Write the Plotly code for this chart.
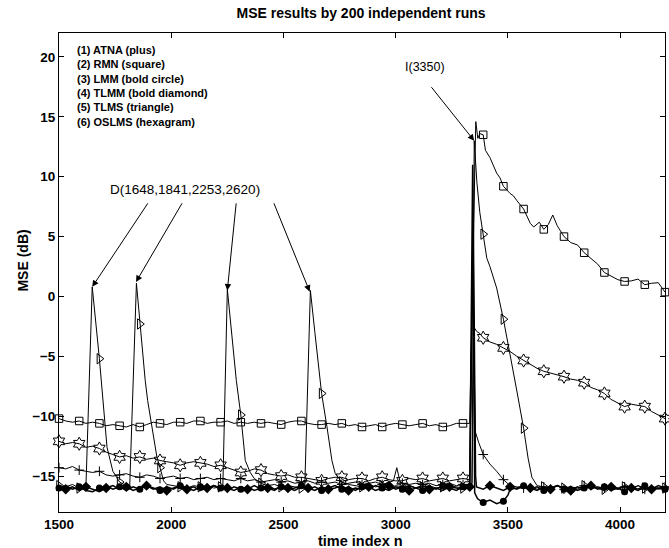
import plotly.graph_objects as go

X_TICKS = [1500, 2000, 2500, 3000, 3500, 4000]
Y_TICKS = [-15, -10, -5, 0, 5, 10, 15, 20]

LEGEND_LINES = ["(1) ATNA (plus)", "(2) RMN (square)", "(3) LMM (bold circle)",
                "(4) TLMM (bold diamond)", "(5) TLMS (triangle)", "(6) OSLMS (hexagram)"]

D_EVENTS = [1648, 1843, 2250, 2617]
D_TIP_Y = [0.8, 1.2, 0.5, 0.4]
D_TAIL_X = [1900, 2052, 2290, 2455]
D_TAIL_Y = [7.9, 7.9, 7.9, 7.9]

# ---- (1) ATNA (plus)
ATNA_X = list(range(1500, 2971, 30)) + [2990, 3005, 3020] + list(range(3030, 3331, 30)) \
    + [3340, 3348, 3355, 3370] + list(range(3390, 4201, 30))
ATNA_Y = [-14.3, -14.4, -14.2, -14.5, -14.6, -14.7, -14.6, -14.9, -15.0, -14.9,
          -14.8, -15.0, -15.1, -14.9, -15.0, -15.2, -15.1, -15.0, -15.2, -15.1,
          -15.3, -15.2, -15.1, -15.3, -15.2, -15.3, -15.4, -15.2, -15.4, -15.3,
          -15.5, -15.4, -15.3, -15.5, -15.4, -15.6, -15.5, -15.4, -15.6, -15.5,
          -15.6, -15.5, -15.7, -15.6, -15.5, -15.7, -15.6, -15.5, -15.7, -15.5,
          -15.4, -14.3, -15.5,
          -15.6, -15.7, -15.6, -15.7, -15.6, -15.8, -15.7, -15.6, -15.8, -15.7, -15.7,
          -15.6, -4.0, -11.3, -12.2,
          -13.2, -14.0, -14.6, -15.3, -15.8, -15.9, -16.0, -15.8, -16.1, -15.9,
          -16.0, -15.8, -16.1, -15.9, -16.0, -15.8, -16.1, -15.9, -16.0, -15.8,
          -16.1, -15.9, -16.0, -15.8, -16.1, -15.9, -16.0, -15.9]

# ---- (2) RMN (square)
RMN_X = list(range(1500, 3331, 30)) + [3340, 3352, 3357, 3366, 3375, 3390, 3400, 3420, 3435, 3450,
                                       3465, 3480, 3510, 3525, 3540, 3570, 3600, 3615, 3640, 3660,
                                       3680, 3700, 3720, 3750, 3780, 3810, 3840, 3870, 3900, 3930,
                                       3960, 3990, 4020, 4050, 4080, 4110, 4140, 4170, 4200]
RMN_Y = [-10.2, -10.4, -10.5, -10.4, -10.6, -10.5, -10.6, -10.8, -10.7, -10.8,
         -10.9, -10.7, -10.9, -10.7, -10.5, -10.6, -10.7, -10.5, -10.5, -10.6,
         -10.4, -10.4, -10.6, -10.5, -10.5, -10.4, -10.6, -10.5, -10.6, -10.5,
         -10.6, -10.5, -10.6, -10.7, -10.5, -10.4, -10.4, -10.6, -10.7, -10.7,
         -10.6, -10.7, -10.6, -10.8, -10.7, -10.9, -10.8, -10.7, -10.9, -10.7,
         -10.6, -10.7, -10.8, -10.7, -10.6, -10.8, -10.7, -10.9, -10.8, -10.6,
         -10.6, -10.6,
         -1.0, 10.5, 14.6, 13.2, 13.6, 13.5, 12.2, 11.6, 11.0, 10.3,
         9.9, 9.2, 8.6, 8.4, 8.0, 7.3, 6.1, 5.8, 6.2, 5.6,
         6.0, 6.8, 5.9, 5.0, 4.5, 4.3, 3.65, 3.15, 2.7, 2.0,
         1.7, 1.4, 1.25, 1.3, 1.45, 0.98, 1.1, 1.15, 0.36]

# ---- (3) LMM (bold circle)
LMM_X = list(range(1500, 3331, 30)) + [3343, 3352, 3365] + list(range(3390, 3481, 30)) + [3500] \
    + list(range(3510, 4201, 30))
LMM_Y = [-16.0, -15.8, -16.1, -15.9, -16.2, -16.3, -16.0, -15.8, -16.1, -15.9,
         -16.2, -15.9, -16.1, -15.8, -16.0, -16.2, -15.9, -16.1, -15.8, -16.0,
         -16.2, -15.9, -16.1, -15.8, -16.0, -16.2, -15.9, -16.1, -15.9, -16.2,
         -16.0, -15.8, -16.1, -15.9, -16.2, -16.0, -15.8, -16.1, -15.9, -16.2,
         -16.0, -15.8, -16.1, -15.9, -16.2, -15.9, -16.1, -15.8, -16.0, -16.2,
         -15.9, -16.1, -15.8, -16.0, -16.2, -15.9, -16.1, -15.8, -16.0, -16.2,
         -15.9, -16.0,
         11.0, -16.4, -16.9,
         -17.2, -17.0, -17.3, -17.1, -16.6,
         -16.1, -16.0, -15.8, -16.1, -15.9, -16.2, -16.0, -15.8, -16.1, -15.9,
         -16.2, -16.0, -15.8, -16.1, -15.9, -16.2, -16.0, -16.3, -15.9, -16.1,
         -15.8, -16.2, -16.0, -16.1]

# ---- (4) TLMM (bold diamond)
TLMM_X = list(range(1500, 3331, 30)) + [3346, 3356] + list(range(3360, 4201, 30))
TLMM_Y = [-15.8, -16.1, -15.9, -16.2, -15.9, -16.1, -16.3, -16.0, -15.8, -16.1,
          -15.9, -16.2, -16.0, -15.8, -16.1, -15.9, -16.2, -16.0, -15.8, -16.1,
          -15.9, -16.2, -16.0, -15.8, -16.1, -16.0, -16.2, -15.9, -16.1, -15.8,
          -16.1, -16.0, -16.2, -15.8, -16.0, -16.2, -15.9, -16.0, -16.2, -15.9,
          -16.1, -16.0, -15.8, -16.2, -16.0, -16.1, -15.9, -16.2, -16.0, -15.8,
          -16.1, -15.9, -16.2, -16.0, -15.8, -16.1, -16.0, -16.2, -15.9, -16.0,
          -16.1, -15.9,
          6.0, -15.0,
          -15.9, -16.1, -15.8, -16.0, -16.2, -15.9, -16.1, -15.8, -16.0, -16.2,
          -15.9, -16.1, -15.8, -16.0, -16.2, -15.9, -16.1, -15.8, -16.0, -16.2,
          -15.9, -16.1, -15.8, -16.0, -16.2, -15.9, -16.1, -15.8, -16.0]

# ---- (5) TLMS (triangle)
TLMS_X = [1500, 1530, 1560, 1590, 1620, 1648, 1680, 1695, 1714, 1740, 1770, 1800, 1815, 1845, 1860,
          1884, 1895, 1920, 1936, 1950, 1966, 1980, 2010, 2040, 2070, 2100, 2130, 2160, 2190, 2220,
          2230, 2250, 2270, 2290, 2310, 2330, 2352, 2370, 2400, 2430, 2460, 2490, 2520, 2550, 2580,
          2595, 2620, 2640, 2661, 2670, 2694, 2716, 2731, 2760, 2790, 2820, 2850, 2880, 2910, 2940,
          2970, 3000, 3030, 3060, 3090, 3120, 3150, 3180, 3210, 3240, 3270, 3300, 3330, 3340, 3350,
          3362, 3375, 3390, 3406, 3420, 3450, 3480, 3510, 3540, 3570, 3590, 3607, 3630, 3660, 3690,
          3720, 3750, 3780, 3810, 3840, 3870, 3900, 3930, 3960, 3990, 4020, 4050, 4080, 4110, 4140,
          4170, 4200]
TLMS_Y = [-15.8, -15.9, -15.7, -16.0, -15.9, 0.8, -5.2, -8.7, -12.6, -14.6, -15.5, -15.8, -15.9, 1.1, -2.3,
          -7.0, -8.7, -11.6, -13.4, -14.3, -15.4, -15.7, -15.8, -15.9, -16.0, -15.8, -15.9, -15.8, -16.0, -15.9,
          -15.9, 0.6, -3.3, -7.0, -9.9, -13.7, -14.7, -15.2, -15.6, -15.8, -15.7, -15.9, -15.8, -15.9, -16.0,
          -15.9, 0.5, -3.0, -7.0, -8.1, -10.9, -13.7, -14.8, -15.5, -15.7, -15.8, -15.9, -15.7, -15.9, -15.8,
          -16.0, -15.8, -15.9, -15.8, -16.0, -15.9, -15.8, -16.0, -15.9, -15.8, -15.9, -16.0, -15.9, -15.8, 13.0,
          9.5, 7.0, 5.2, 3.2, 2.5, 0.7, -1.9, -4.8, -7.9, -11.0, -13.5, -15.1, -15.8, -15.9, -16.1,
          -15.8, -16.0, -15.9, -16.1, -15.8, -16.0, -15.9, -16.1, -15.8, -16.0, -15.9, -16.1, -15.8, -16.0, -15.9,
          -16.1, -16.0]

# ---- (6) OSLMS (hexagram)
OSLMS_X = list(range(1500, 3331, 30)) + [3342, 3350, 3360, 3375] + list(range(3390, 4201, 30))
OSLMS_Y = [-12.1, -12.3, -12.2, -12.3, -12.6, -12.5, -12.7, -13.0, -13.2, -13.4,
           -13.3, -13.5, -13.4, -13.6, -13.5, -13.7, -13.8, -13.9, -14.1, -13.9,
           -13.8, -13.9, -14.0, -14.2, -14.1, -14.3, -14.5, -14.7, -14.6, -14.4,
           -14.5, -14.8, -14.9, -15.0, -14.9, -15.1, -15.1, -15.2, -15.3, -15.4,
           -15.2, -15.1, -15.1, -15.3, -15.2, -15.2, -15.4, -15.2, -15.1, -15.3,
           -15.4, -15.4, -15.2, -15.3, -15.2, -15.4, -15.3, -15.2, -15.4, -15.3,
           -15.2, -15.3,
           1.7, -2.6, -2.9, -3.1,
           -3.45, -3.8, -4.0, -4.3, -4.6, -5.0, -5.35, -5.7, -6.0, -6.25,
           -6.4, -6.5, -6.7, -6.9, -7.0, -7.2, -7.6, -7.8, -8.1, -8.6,
           -8.9, -9.2, -9.0, -9.1, -9.2, -9.6, -9.9, -10.2]

SERIES = [
    ("ATNA", ATNA_X, ATNA_Y, dict(symbol="cross-thin-open", size=7, color="black", line=dict(width=1, color="black")), 0, 1.0),
    ("RMN", RMN_X, RMN_Y, dict(symbol="square-open", size=7.5, color="black", line=dict(width=1, color="black")), 0, 1.0),
    ("TLMS", TLMS_X, TLMS_Y, dict(symbol="triangle-right-open", size=9, color="black", line=dict(width=1, color="black")), 0, 1.0),
    ("OSLMS", OSLMS_X, OSLMS_Y, dict(symbol="hexagram-open", size=10, color="black", line=dict(width=1, color="black")), 0, 1.0),
    ("LMM", LMM_X, LMM_Y, dict(symbol="circle", size=7, color="black"), 0, 1.5),
    ("TLMM", TLMM_X, TLMM_Y, dict(symbol="diamond", size=8, color="black"), 30, 1.5),
]

fig = go.Figure()
for name, xs, ys, mk, off, lw in SERIES:
    assert len(xs) == len(ys), (name, len(xs), len(ys))
    fig.add_trace(go.Scatter(x=xs, y=ys, mode="lines", line=dict(color="black", width=lw),
                             name=name, hoverinfo="skip"))
    mx = [x for x in xs if (x - 1500 - off) % 90 == 0]
    my = [y for x, y in zip(xs, ys) if (x - 1500 - off) % 90 == 0]
    fig.add_trace(go.Scatter(x=mx, y=my, mode="markers", marker=mk, cliponaxis=False,
                             name=name, hoverinfo="skip"))

anns = []
# text box with the method list (one multi-line text)
anns.append(dict(x=1577, y=17.6, xref="x", yref="y", text="<br>".join(LEGEND_LINES),
                 showarrow=False, xanchor="left", yanchor="middle", align="left", borderpad=0,
                 font=dict(size=11, weight="bold", color="black")))
anns.append(dict(x=2063, y=8.9, xref="x", yref="y", text="D(1648,1841,2253,2620)",
                 showarrow=False, font=dict(size=13.5, color="black")))
for ex, ty, tx, tyy in zip(D_EVENTS, D_TIP_Y, D_TAIL_X, D_TAIL_Y):
    anns.append(dict(x=ex, y=ty, xref="x", yref="y", ax=tx, ay=tyy, axref="x", ayref="y",
                     text="", showarrow=True, arrowhead=2, arrowsize=1.3, arrowwidth=1,
                     arrowcolor="black", standoff=0))
anns.append(dict(x=3132, y=19.2, xref="x", yref="y", text="I(3350)", showarrow=False,
                 font=dict(size=12.5, color="black")))
anns.append(dict(x=3350, y=13.0, xref="x", yref="y", ax=3154, ay=17.6, axref="x", ayref="y",
                 text="", showarrow=True, arrowhead=2, arrowsize=1.3, arrowwidth=1,
                 arrowcolor="black", standoff=0))
# axis titles
anns.append(dict(x=0.498, y=-0.06, xref="paper", yref="paper", text="time index n",
                 showarrow=False, yanchor="middle",
                 font=dict(size=14.5, weight="bold", color="black")))
anns.append(dict(x=-0.061, y=0.525, xref="paper", yref="paper", text="MSE (dB)",
                 showarrow=False, textangle=-90, xanchor="center", yanchor="middle",
                 font=dict(size=14, weight="bold", color="black")))

axis_common = dict(showline=True, linecolor="black", linewidth=1, mirror="ticks",
                   ticks="inside", ticklen=5, tickcolor="black", showgrid=False,
                   zeroline=False, tickfont=dict(size=13.5, weight="bold", color="black"))

fig.update_layout(
    width=669, height=548,
    margin=dict(l=59, r=4, t=33, b=36),
    plot_bgcolor="white", paper_bgcolor="white",
    showlegend=False,
    font=dict(family="Liberation Sans, Arial, sans-serif", color="black"),
    title=dict(text="MSE results by 200 independent runs", x=0.4985, xref="paper",
               xanchor="center", y=1 - 13 / 548, yanchor="middle",
               font=dict(size=14, weight="bold", color="black")),
    xaxis=dict(range=[1500, 4200], tickvals=X_TICKS, **axis_common),
    yaxis=dict(range=[-18, 22], tickvals=Y_TICKS, **axis_common),
    annotations=anns,
)

fig.write_html("out.html")
